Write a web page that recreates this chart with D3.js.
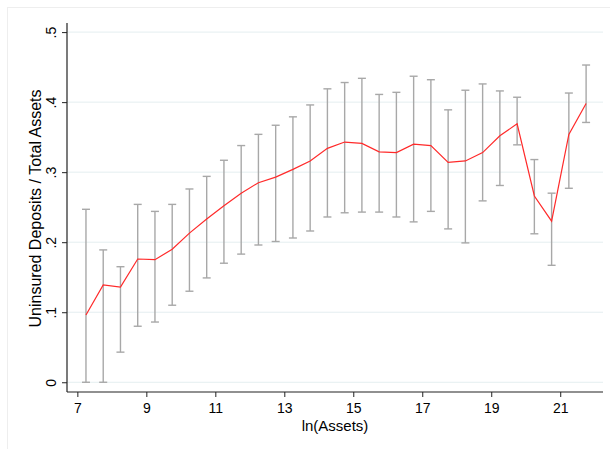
<!DOCTYPE html>
<html>
<head>
<meta charset="utf-8">
<script src="https://cdn.jsdelivr.net/npm/d3@7"></script>
<style>
  html, body { margin: 0; padding: 0; background: #fff; }
  svg { display: block; font-family: "Liberation Sans", Arial, Helvetica, sans-serif; }
</style>
</head>
<body>
<svg id="chart" width="610" height="449"></svg>
<script>
// Bin midpoints of ln(Assets)
const binMid = [7.25, 7.75, 8.25, 8.75, 9.25, 9.75, 10.25, 10.75, 11.25, 11.75,
                12.25, 12.75, 13.25, 13.75, 14.25, 14.75, 15.25, 15.75, 16.25, 16.75,
                17.25, 17.75, 18.25, 18.75, 19.25, 19.75, 20.25, 20.75, 21.25, 21.75];
// Mean uninsured deposits / total assets per bin
const meanShare = [0.096, 0.139, 0.136, 0.176, 0.175, 0.190, 0.213, 0.233, 0.252, 0.270,
                   0.285, 0.293, 0.304, 0.316, 0.334, 0.343, 0.341, 0.329, 0.328, 0.340,
                   0.338, 0.314, 0.316, 0.328, 0.352, 0.369, 0.266, 0.230, 0.354, 0.398];
// Upper and lower ends of the spread bars
const upperShare = [0.247, 0.189, 0.165, 0.254, 0.244, 0.254, 0.276, 0.294, 0.317, 0.338,
                    0.354, 0.367, 0.379, 0.396, 0.419, 0.428, 0.434, 0.411, 0.414, 0.437,
                    0.432, 0.389, 0.417, 0.426, 0.416, 0.407, 0.318, 0.270, 0.413, 0.453];
const lowerShare = [0.000, 0.000, 0.043, 0.080, 0.086, 0.110, 0.130, 0.149, 0.170, 0.183,
                    0.196, 0.201, 0.206, 0.216, 0.236, 0.242, 0.243, 0.243, 0.236, 0.229,
                    0.244, 0.219, 0.199, 0.259, 0.281, 0.339, 0.212, 0.167, 0.277, 0.371];
const xTicks = [7, 9, 11, 13, 15, 17, 19, 21];
const yTicks = [0, 0.1, 0.2, 0.3, 0.4, 0.5];
const yTickLabels = ["0", ".1", ".2", ".3", ".4", ".5"];

const svg = d3.select("#chart");
const W = 610, H = 449;

// Plot region
const plotL = 67, plotR = 603, plotT = 23, plotB = 392;

const x = d3.scaleLinear().domain([6.7, 22.24]).range([plotL, plotR]);
const y = d3.scaleLinear().domain([-0.0139, 0.513]).range([plotB, plotT]);

// faint outer frame
svg.append("rect")
  .attr("x", 7.5).attr("y", 7.5).attr("width", W).attr("height", H)
  .attr("fill", "none").attr("stroke", "#eeeeee").attr("stroke-width", 1);

// horizontal grid
svg.append("g").selectAll("line").data(yTicks).join("line")
  .attr("x1", plotL).attr("x2", plotR)
  .attr("y1", d => y(d)).attr("y2", d => y(d))
  .attr("stroke", "#e4eef0").attr("stroke-width", 1);

// x axis
const xAxis = svg.append("g")
  .attr("transform", `translate(0,${plotB})`)
  .call(d3.axisBottom(x).tickValues(xTicks).tickFormat(d3.format("d")).tickSize(5).tickPadding(6));
xAxis.select(".domain").attr("d", `M${plotL},0H${plotR}`).attr("stroke", "#222").attr("stroke-width", 1.2);
xAxis.selectAll(".tick line").attr("stroke", "#222");
xAxis.selectAll(".tick text").attr("font-size", 14).attr("fill", "#000")
  .attr("font-family", "'Liberation Sans', Arial, sans-serif");

// y axis
const yAxis = svg.append("g")
  .attr("transform", `translate(${plotL},0)`)
  .call(d3.axisLeft(y).tickValues(yTicks).tickFormat((d, i) => yTickLabels[i]).tickSize(5).tickPadding(4));
yAxis.select(".domain").attr("d", `M0,${plotT}V${plotB}`).attr("stroke", "#222").attr("stroke-width", 1.2);
yAxis.selectAll(".tick line").attr("stroke", "#222");
yAxis.selectAll(".tick text")
  .attr("font-size", 14).attr("fill", "#000")
  .attr("font-family", "'Liberation Sans', Arial, sans-serif")
  .attr("text-anchor", "middle")
  .attr("dy", null)
  .attr("x", null)
  .attr("transform", "translate(-11,0) rotate(-90)")
  .attr("y", 0);

// axis titles
svg.append("text")
  .attr("x", (plotL + plotR) / 2).attr("y", 431)
  .attr("text-anchor", "middle").attr("font-size", 15).attr("fill", "#000")
  .text("ln(Assets)");
svg.append("text")
  .attr("transform", `translate(41,208.5) rotate(-90)`)
  .attr("text-anchor", "middle").attr("font-size", 16).attr("fill", "#000")
  .text("Uninsured Deposits / Total Assets");

// spread bars
const bars = svg.append("g").attr("stroke", "#a8a8a8").attr("stroke-width", 1.4);
const capHalf = 4;
binMid.forEach((m, i) => {
  const cx = x(m);
  bars.append("line").attr("x1", cx).attr("x2", cx).attr("y1", y(upperShare[i])).attr("y2", y(lowerShare[i]));
  bars.append("line").attr("x1", cx - capHalf).attr("x2", cx + capHalf).attr("y1", y(upperShare[i])).attr("y2", y(upperShare[i]));
  bars.append("line").attr("x1", cx - capHalf).attr("x2", cx + capHalf).attr("y1", y(lowerShare[i])).attr("y2", y(lowerShare[i]));
});

// mean line
const line = d3.line().x((d, i) => x(binMid[i])).y(d => y(d));
svg.append("path")
  .datum(meanShare)
  .attr("d", line)
  .attr("fill", "none")
  .attr("stroke", "#ff2a2a")
  .attr("stroke-width", 1.2);
</script>
</body>
</html>
